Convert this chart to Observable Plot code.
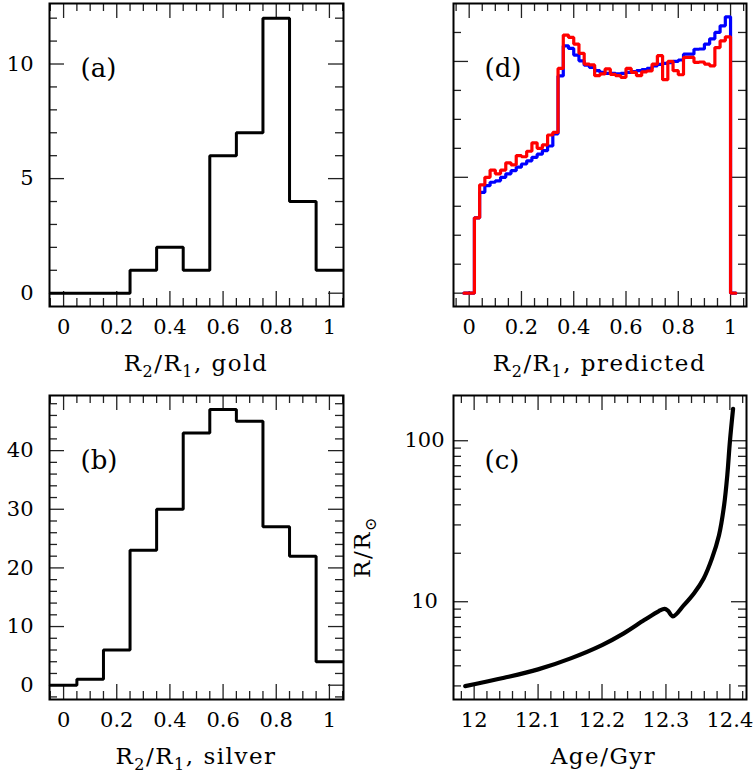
<!DOCTYPE html>
<html><head><meta charset="utf-8">
<script src="https://cdn.jsdelivr.net/npm/d3@7"></script>
<script src="https://cdn.jsdelivr.net/npm/@observablehq/plot@0.6"></script>
<style>
body{margin:0;background:#fff;}
#fig{position:relative;width:754px;height:776px;font-family:"DejaVu Serif",serif;}
#fig svg{position:absolute;overflow:visible;}
</style></head><body><div id="fig"></div>
<script>
// ---------- data ----------
// panels (a),(b): histograms with bins of width 0.1
const binEdgesAB = [-0.05,0.05,0.15,0.25,0.35,0.45,0.55,0.65,0.75,0.85,0.95,1.05];
const goldCounts = [0,0,0,1,2,1,6,7,12,4,1];
const silverCounts = [0,1,6,23,30,43,47,45,27,22,4];

// panel (d): predicted distributions (arbitrary units)
const predEdges = [-0.02,0,0.02,0.04,0.06,0.08,0.1,0.12,0.14,0.16,0.18,0.2,0.22,0.24,0.26,0.28,0.3,0.32,0.34,0.36,0.38,0.4,0.42,0.44,0.46,0.48,0.5,0.52,0.54,0.56,0.58,0.6,0.62,0.64,0.66,0.68,0.7,0.72,0.74,0.76,0.78,0.8,0.82,0.84,0.86,0.88,0.9,0.92,0.94,0.96,0.98,1,1.02];
const predBlue = [0,0,2.6,3.48,3.71,3.83,3.88,4.0,4.12,4.23,4.35,4.46,4.57,4.69,4.8,4.92,5.08,5.5,7.5,8.54,8.45,8.22,8.02,7.87,7.79,7.68,7.62,7.59,7.59,7.57,7.59,7.62,7.65,7.68,7.72,7.76,7.85,7.9,7.93,7.96,8.0,8.05,8.25,8.25,8.42,8.43,8.6,8.78,9.0,9.23,9.54,0];
const predRed = [0,0,2.6,3.74,4.0,4.25,4.12,4.25,4.5,4.43,4.75,4.71,4.9,5.19,5.0,5.12,5.46,5.55,7.76,8.91,8.83,8.6,8.28,7.91,7.88,7.51,7.57,7.74,7.55,7.51,7.45,7.76,7.62,7.51,7.64,7.67,7.91,8.2,7.37,8.0,7.68,7.54,8.14,8.14,7.97,7.98,7.91,7.85,8.48,8.71,8.85,0];

// panel (c): radius vs age
const ageGyr = [11.986,12.047,12.1,12.151,12.2,12.234,12.266,12.289,12.298,12.303,12.311,12.328,12.344,12.359,12.372,12.383,12.391,12.396,12.4,12.405];
const radius = [2.99,3.37,3.8,4.45,5.38,6.36,7.69,8.75,9.02,8.8,8.12,9.52,11.3,13.96,18.6,25.9,39.8,61.3,98.6,158];

// ticks
const ratioMajor = [0,0.2,0.4,0.6,0.8,1];
const ratioMinor = [-0.05,0.05,0.1,0.15,0.25,0.3,0.35,0.45,0.5,0.55,0.65,0.7,0.75,0.85,0.9,0.95,1.05];
const goldYMajor = [0,5,10];
const goldYMinor = [1,2,3,4,6,7,8,9,11,12];
const silverYMajor = [0,10,20,30,40];
const silverYMinor = [-2,2,4,6,8,12,14,16,18,22,24,26,28,32,34,36,38,42,44,46,48];
const predYMajor = [0,4,8];
const predYMinor = [1,2,3,5,6,7,9];
const ageMajor = [12,12.1,12.2,12.3,12.4];
const ageMinor = [11.98,12.02,12.04,12.06,12.08,12.12,12.14,12.16,12.18,12.22,12.24,12.26,12.28,12.32,12.34,12.36,12.38,12.42];
const rMajor = [10,100];
const rMinor = [3,4,5,6,7,8,9,20,30,40,50,60,70,80,90];

// ---------- helpers ----------
function steps(edges, vals){
  const pts = vals.map((v,i)=>({x:edges[i], y:v}));
  pts.push({x:edges[edges.length-1], y:vals[vals.length-1]});
  return pts;
}
const fig = document.getElementById("fig");

function panel(o){
  const [mt,mr,mb,ml] = o.margin;
  const W = 377, H = 388;
  const ph = H-mt-mb, pw = W-ml-mr;
  const ts = {stroke:"#222", strokeWidth:1.3};
  const ticks = [];
  for (const [vals,len] of [[o.xMajor,15],[o.xMinor,8]]) {
    ticks.push(Plot.tickX(vals,{x:d=>d, insetTop:ph-len, ...ts}));
    ticks.push(Plot.tickX(vals,{x:d=>d, insetBottom:ph-len, ...ts}));
  }
  for (const [vals,len] of [[o.yMajor,15],[o.yMinor,8]]) {
    ticks.push(Plot.tickY(vals,{y:d=>d, insetRight:pw-len, ...ts}));
    ticks.push(Plot.tickY(vals,{y:d=>d, insetLeft:pw-len, ...ts}));
  }
  const marks = [
    ...ticks,
    ...o.marks,
    Plot.axisX(o.xMajor,{tickSize:0, tickPadding:13, fontSize:21, label:null, tickFormat:d=>String(d)}),
    Plot.text([o.tag],{text:d=>d, frameAnchor:"top-left", dx:31, dy:55, textAnchor:"start", fontSize:26}),
    Plot.frame({stroke:"black", strokeWidth:2})
  ];
  if (o.yLabels) marks.push(Plot.axisY(o.yLabels,{tickSize:0, tickPadding:o.yPad||16, fontSize:21, label:null, textAnchor:o.yAnchor, tickFormat:d=>String(d)}));
  const svg = Plot.plot({
    width:W, height:H, marginTop:mt, marginRight:mr, marginBottom:mb, marginLeft:ml,
    style:{fontFamily:"DejaVu Serif", background:"transparent", overflow:"visible"},
    x:{domain:o.xDomain, axis:null},
    y:{domain:o.yDomain, type:o.yType||"linear", axis:null},
    marks
  });
  svg.style.left = o.left+"px";
  svg.style.top = o.top+"px";
  fig.appendChild(svg);
  // x title
  const t = d3.select(svg).append("text")
    .attr("x", ml+pw/2+(o.titleDx||0)).attr("y", H-mb+65)
    .attr("text-anchor","middle").attr("font-size",23).attr("letter-spacing","1.5px")
    .attr("font-family","DejaVu Serif").attr("fill","black");
  let prevSub = false;
  for (const [s,sub] of o.title) {
    const sp = t.append("tspan").text(s);
    if (sub) sp.attr("font-size",16).attr("dy",6);
    else sp.attr("dy", prevSub ? -6 : 0);
    prevSub = !!sub;
  }
  return svg;
}

panel({left:0, top:0, margin:[3,34,82,49], xDomain:[-0.053,1.053], yDomain:[-0.58,12.64],
  xMajor:ratioMajor, xMinor:ratioMinor, yMajor:goldYMajor, yMinor:goldYMinor, yLabels:goldYMajor,
  tag:"(a)", title:[["R"],["2",true],["/R"],["1",true],[", gold"]],
  marks:[Plot.line(steps(binEdgesAB,goldCounts),{x:"x",y:"y",curve:"step-after",stroke:"black",strokeWidth:3,strokeLinejoin:"miter"})]});

panel({left:377, top:0, margin:[3,8,82,76], xDomain:[-0.06,1.061], yDomain:[-0.46,10],
  xMajor:ratioMajor, xMinor:ratioMinor, yMajor:predYMajor, yMinor:predYMinor,
  tag:"(d)", title:[["R"],["2",true],["/R"],["1",true],[", predicted"]],
  marks:[
    Plot.line(steps(predEdges,predBlue),{x:"x",y:"y",curve:"step-after",stroke:"#0000ff",strokeWidth:3.2,strokeLinejoin:"miter"}),
    Plot.line(steps(predEdges,predRed),{x:"x",y:"y",curve:"step-after",stroke:"#ff0000",strokeWidth:3.2,strokeLinejoin:"miter"})
  ]});

panel({left:0, top:388, margin:[7,34,77,49], xDomain:[-0.053,1.053], yDomain:[-2.44,49.4],
  xMajor:ratioMajor, xMinor:ratioMinor, yMajor:silverYMajor, yMinor:silverYMinor, yLabels:silverYMajor,
  tag:"(b)", title:[["R"],["2",true],["/R"],["1",true],[", silver"]],
  marks:[Plot.line(steps(binEdgesAB,silverCounts),{x:"x",y:"y",curve:"step-after",stroke:"black",strokeWidth:3,strokeLinejoin:"miter"})]});

const svgC = panel({left:377, top:388, margin:[7,8,77,76], xDomain:[11.9677,12.426], yDomain:[2.47,191], yType:"log",
  xMajor:ageMajor, xMinor:ageMinor, yMajor:rMajor, yMinor:rMinor, yLabels:rMajor, yPad:29, yAnchor:"middle",
  tag:"(c)", title:[["Age/Gyr"]], titleDx:4,
  marks:[Plot.line(ageGyr.map((a,i)=>({a, r:radius[i]})),{x:"a",y:"r",curve:"catmull-rom",stroke:"black",strokeWidth:4.2})]});

// y title for panel (c)
const yt = d3.select(svgC).append("text")
  .attr("transform","translate(-7,159) rotate(-90)")
  .attr("text-anchor","middle").attr("font-size",23).attr("letter-spacing","1.5px")
  .attr("font-family","DejaVu Serif").attr("fill","black");
yt.append("tspan").text("R/R");
yt.append("tspan").text("⊙").attr("font-size",16).attr("dy",6);
</script></body></html>
